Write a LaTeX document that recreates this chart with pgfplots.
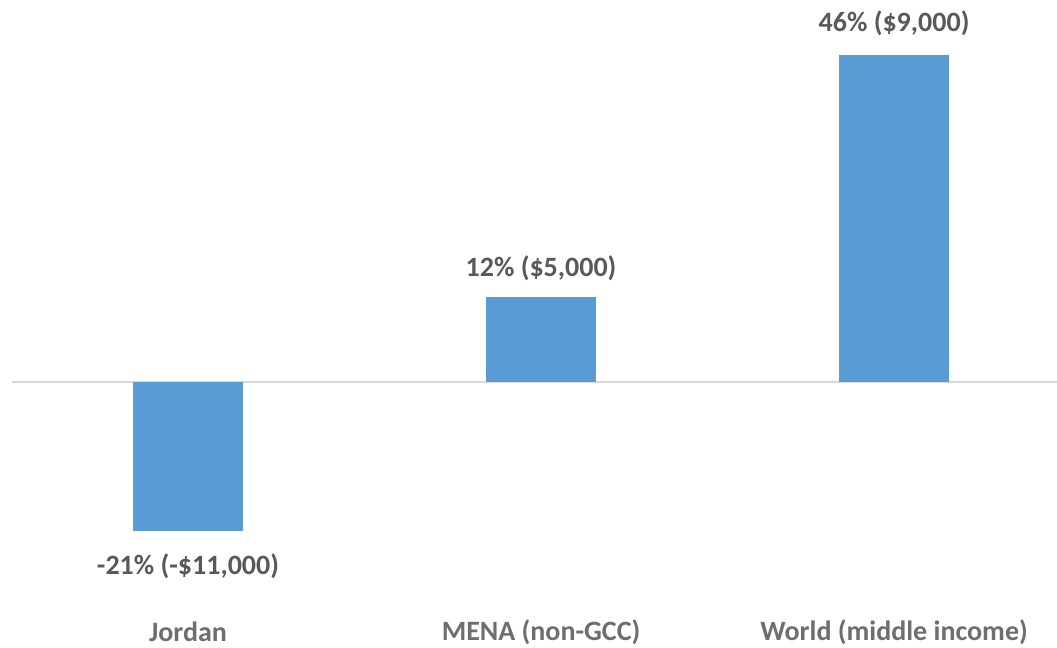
\documentclass[border=0pt]{standalone}
\usepackage{pgfplots}
\pgfplotsset{compat=1.18}
\usepackage{fontspec}
\setmainfont{Carlito}
\definecolor{barblue}{HTML}{5B9BD5}
\definecolor{lbl}{HTML}{595959}
\definecolor{cat}{HTML}{6E6E6E}
\definecolor{zline}{HTML}{D9D9D9}
\begin{document}
\begin{tikzpicture}
\begin{axis}[
  at={(0,0)}, anchor=south west,
  scale only axis,
  width=523pt, height=284pt,
  xmin=-0.5, xmax=2.463,
  ymin=-30, ymax=50,
  ybar, bar width=55pt, bar shift=0pt,
  hide y axis,
  axis x line=bottom,
  x axis line style={draw=none},
  xtick={0,1,2},
  xticklabels={Jordan, MENA (non-GCC), World (middle income)},
  major tick length=0pt,
  xtick style={draw=none},
  xticklabel style={anchor=center, yshift=-18.5pt, font=\fontsize{14}{16}\selectfont\bfseries, text=cat},
  clip=false,
  every node near coord/.append style={font=\fontsize{14}{16}\selectfont\bfseries, text=lbl, anchor=center},
]
\draw[zline, line width=1pt] (axis cs:-0.5,0) -- (axis cs:2.463,0);
\addplot[fill=barblue, draw=none, point meta=explicit symbolic,
  nodes near coords, every node near coord/.append style={yshift=-17.5pt}]
  coordinates {(0,-21) [{-21\% (-\$11,000)}]};
\addplot[fill=barblue, draw=none, point meta=explicit symbolic,
  nodes near coords, every node near coord/.append style={yshift=14.5pt}]
  coordinates {(1,12) [{12\% (\$5,000)}]};
\addplot[fill=barblue, draw=none, point meta=explicit symbolic,
  nodes near coords, every node near coord/.append style={yshift=16pt}]
  coordinates {(2,46) [{46\% (\$9,000)}]};
\end{axis}
\pgfresetboundingbox
\path (-5.75pt,-26.5pt) rectangle (522.75pt,297.5pt);
\end{tikzpicture}
\end{document}
